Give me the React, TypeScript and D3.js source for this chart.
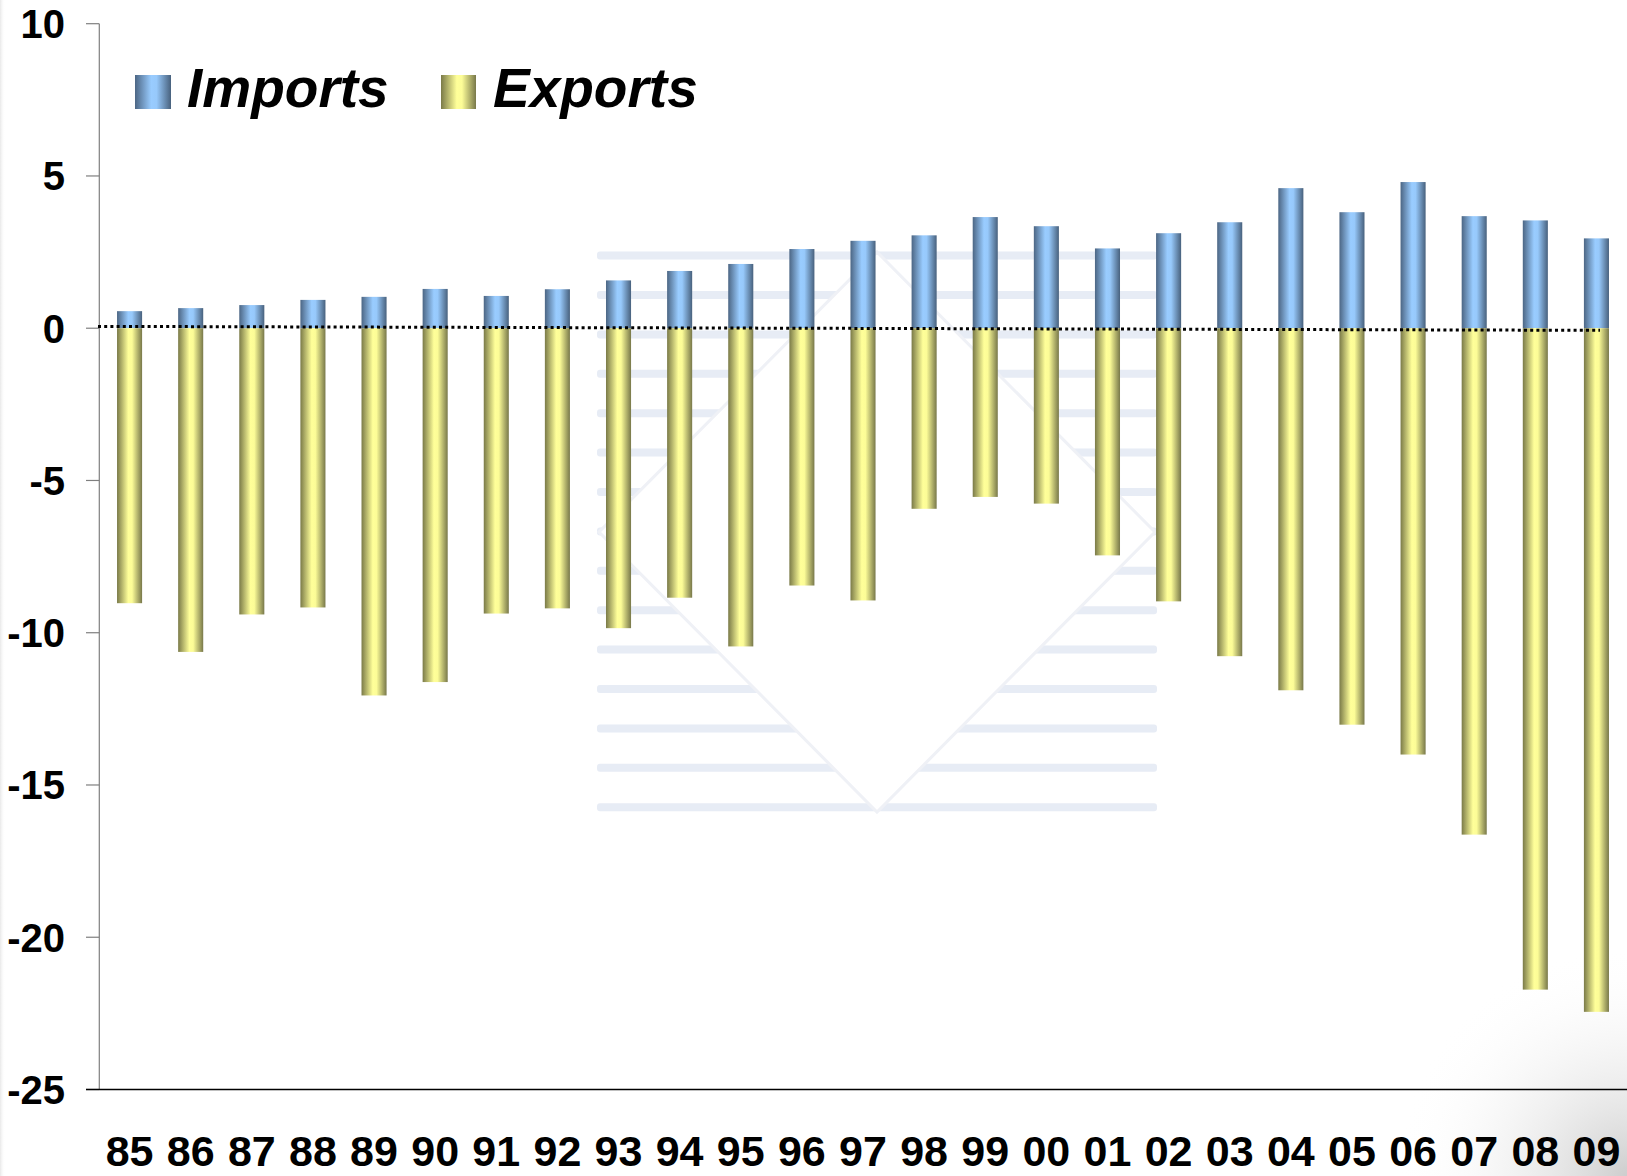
import React from 'react';
import * as d3 from 'd3';

const years = ['85', '86', '87', '88', '89', '90', '91', '92', '93', '94', '95', '96', '97', '98', '99', '00', '01', '02', '03', '04', '05', '06', '07', '08', '09'];
const imports = [0.56, 0.66, 0.76, 0.93, 1.03, 1.29, 1.06, 1.28, 1.57, 1.88, 2.11, 2.6, 2.87, 3.05, 3.65, 3.35, 2.62, 3.12, 3.48, 4.6, 3.81, 4.8, 3.68, 3.54, 2.95];
const exports = [-9.03, -10.63, -9.4, -9.17, -12.06, -11.62, -9.37, -9.2, -9.85, -8.85, -10.45, -8.45, -8.94, -5.93, -5.54, -5.76, -7.46, -8.97, -10.77, -11.89, -13.02, -14.0, -16.63, -21.72, -22.45];
const yTicks = [10, 5, 0, -5, -10, -15, -20, -25];
const seriesNames = ['Imports', 'Exports'];

const W = 1627;
const H = 1176;
const FONT = '"Liberation Sans", Arial, sans-serif';

export default function App() {
  const x = d3.scaleBand().domain(years).range([99, 1627]).paddingInner(0.59).paddingOuter(0.295);
  const y = d3.scaleLinear().domain([-25, 10]).range([1089.5, 23.7]);
  const y0 = y(0);

  // faint logo watermark behind the bars
  const wmStripes = d3.range(15).map((i) => 255.6 + i * 39.4);
  const wm = { cx: 877, top: 252, bottom: 812, left: 599, right: 1155 };
  const wmMid = (wm.top + wm.bottom) / 2;
  const diamond = `${wm.cx},${wm.top} ${wm.right},${wmMid} ${wm.cx},${wm.bottom} ${wm.left},${wmMid}`;

  return (
    <svg width={W} height={H} style={{ position: 'absolute', left: 0, top: 0, background: '#fff' }}>
      <defs>
        <linearGradient id="gBlue" x1="0" x2="1" y1="0" y2="0">
          <stop offset="0" stopColor="#4c6684" />
          <stop offset="0.45" stopColor="#99ccff" />
          <stop offset="0.6" stopColor="#97c9fb" />
          <stop offset="1" stopColor="#48617d" />
        </linearGradient>
        <linearGradient id="gYellow" x1="0" x2="1" y1="0" y2="0">
          <stop offset="0" stopColor="#7a7a48" />
          <stop offset="0.45" stopColor="#ffff99" />
          <stop offset="0.6" stopColor="#fcfc97" />
          <stop offset="1" stopColor="#78784a" />
        </linearGradient>
        <radialGradient id="gCorner" cx={W} cy={H} r="230" gradientUnits="userSpaceOnUse">
          <stop offset="0" stopColor="#c8c8c8" stopOpacity="0.9" />
          <stop offset="1" stopColor="#ffffff" stopOpacity="0" />
        </radialGradient>
        <linearGradient id="gLeft" x1="0" x2="1" y1="0" y2="0">
          <stop offset="0" stopColor="#e8e8e8" />
          <stop offset="1" stopColor="#ffffff" stopOpacity="0" />
        </linearGradient>
      </defs>

      <rect x={0} y={0} width={W} height={H} fill="#fff" />
      <rect x={0} y={0} width={5} height={H} fill="url(#gLeft)" />
      <rect x={W - 260} y={H - 260} width={260} height={260} fill="url(#gCorner)" />

      <g opacity={0.8}>
        {wmStripes.map((sy, i) => (
          <rect key={i} x={wm.left - 2} y={sy - 4} width={wm.right - wm.left + 4} height={8} rx={3} fill="#e2e8f3" />
        ))}
        <polygon points={diamond} fill="#fff" stroke="#eceef5" strokeWidth={3} />
      </g>

      {/* y axis */}
      <line x1={99.3} x2={99.3} y1={y(10)} y2={y(-25)} stroke="#7f7f7f" strokeWidth={1.2} />
      {yTicks.map((t) => (
        <g key={t}>
          <line x1={86} x2={99.3} y1={y(t)} y2={y(t)} stroke="#7f7f7f" strokeWidth={1.2} />
          <text x={65} y={y(t)} dy="0.36em" textAnchor="end" fontFamily={FONT} fontWeight="bold" fontSize={40} fill="#000">
            {t}
          </text>
        </g>
      ))}

      {/* bars */}
      {years.map((yr, i) => (
        <g key={yr}>
          <rect x={x(yr)} width={x.bandwidth()} y={y(imports[i])} height={y0 - y(imports[i])} fill="url(#gBlue)" />
          <rect x={x(yr)} width={x.bandwidth()} y={y0} height={y(exports[i]) - y0} fill="url(#gYellow)" />
        </g>
      ))}

      {/* bottom axis line */}
      <line x1={86} x2={W} y1={y(-25)} y2={y(-25)} stroke="#000" strokeWidth={1.6} />

      {/* dotted zero line, drawn slightly sloped as in the original */}
      <line x1={98} x2={1600} y1={y(0.06)} y2={y(-0.07)} stroke="#000" strokeWidth={3} strokeDasharray="3,3.2" />

      {/* x labels */}
      {years.map((yr) => (
        <text key={yr} x={(x(yr) as number) + x.bandwidth() / 2} y={1166} textAnchor="middle" fontFamily={FONT} fontWeight="bold" fontSize={43} fill="#000">
          {yr}
        </text>
      ))}

      {/* legend */}
      <rect x={135} y={75} width={36} height={34} fill="url(#gBlue)" />
      <text x={187} y={107} fontFamily={FONT} fontWeight="bold" fontStyle="italic" fontSize={55} fill="#000">
        {seriesNames[0]}
      </text>
      <rect x={441} y={75} width={35} height={34} fill="url(#gYellow)" />
      <text x={493} y={107} fontFamily={FONT} fontWeight="bold" fontStyle="italic" fontSize={55} fill="#000">
        {seriesNames[1]}
      </text>
    </svg>
  );
}
